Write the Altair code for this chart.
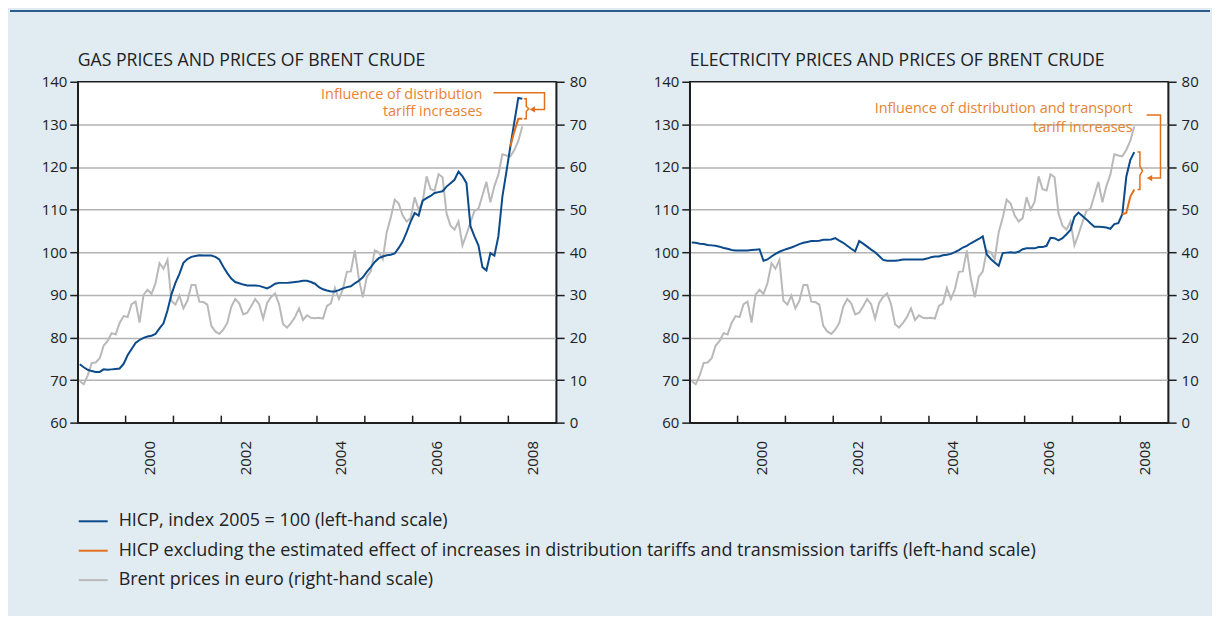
import altair as alt
import pandas as pd

# ---------------- data ----------------
START_YEAR = 1999  # first month = January 1999, monthly data to April 2008

brent_eur = [9.7, 9.0, 11.1, 14.0, 14.1, 15.1, 18.1, 19.2, 21.0, 20.7, 23.4, 25.0,
             24.8, 27.8, 28.4, 23.5, 30.0, 31.2, 30.2, 32.7, 37.4, 36.1, 38.2, 28.6,
             27.7, 29.8, 26.8, 28.6, 32.3, 32.3, 28.4, 28.3, 27.7, 22.7, 21.4, 20.8,
             21.8, 23.4, 27.2, 29.0, 28.0, 25.4, 25.8, 27.3, 29.0, 27.8, 24.4, 28.1,
             29.5, 30.3, 27.8, 23.1, 22.3, 23.4, 24.8, 26.8, 24.1, 25.2, 24.6, 24.5,
             24.6, 24.4, 27.4, 28.0, 31.6, 29.0, 31.3, 35.4, 35.5, 40.4, 33.8, 29.4,
             34.2, 35.5, 40.4, 40.0, 38.4, 44.7, 48.1, 52.3, 51.4, 48.6, 47.2, 48.0,
             52.9, 50.0, 51.8, 57.8, 54.8, 54.5, 58.3, 57.6, 49.1, 46.2, 45.3, 47.2,
             41.6, 44.2, 47.0, 49.7, 50.2, 53.3, 56.5, 51.7, 55.5, 58.2, 63.0, 62.7,
             62.5, 64.0, 66.1, 69.5]

gas_hicp = [73.7, 73.0, 72.4, 72.1, 71.9, 71.9, 72.5, 72.4, 72.5, 72.6, 72.7, 73.8,
            75.8, 77.3, 78.7, 79.4, 79.9, 80.2, 80.4, 80.8, 82.1, 83.3, 86.3, 90.1,
            92.8, 94.9, 97.5, 98.4, 98.9, 99.1, 99.3, 99.2, 99.2, 99.2, 98.9, 98.3,
            96.6, 95.1, 93.8, 93.0, 92.7, 92.4, 92.2, 92.2, 92.2, 92.1, 91.8, 91.5,
            92.0, 92.6, 92.8, 92.8, 92.8, 92.9, 93.0, 93.1, 93.3, 93.3, 93.0, 92.6,
            91.8, 91.3, 91.0, 90.8, 90.8, 91.1, 91.5, 91.8, 92.0, 92.7, 93.3, 94.1,
            95.4, 96.5, 97.7, 98.6, 99.0, 99.3, 99.4, 99.7, 101.0, 102.5, 104.7, 107.2,
            109.2, 108.6, 112.1, 112.7, 113.2, 113.9, 114.1, 114.3, 115.4, 116.2, 117.0, 118.9,
            117.8, 116.2, 106.1, 103.7, 101.6, 96.5, 95.7, 99.8, 99.2, 103.7, 113.0, 118.8,
            124.8, 130.5, 136.2, 136.0]

elec_hicp = [102.3, 102.2, 102.0, 101.9, 101.7, 101.6, 101.5, 101.3, 101.0, 100.8, 100.5, 100.4,
             100.4, 100.4, 100.4, 100.5, 100.6, 100.7, 98.0, 98.3, 99.0, 99.6, 100.1, 100.5,
             100.8, 101.1, 101.5, 101.9, 102.2, 102.4, 102.6, 102.6, 102.7, 102.9, 102.9, 103.0,
             103.3, 102.7, 102.2, 101.5, 100.8, 100.2, 102.6, 102.0, 101.3, 100.6, 100.0, 99.1,
             98.2, 98.0, 98.0, 98.0, 98.1, 98.3, 98.3, 98.3, 98.3, 98.3, 98.3, 98.5,
             98.8, 99.0, 99.0, 99.3, 99.4, 99.6, 100.0, 100.5, 101.1, 101.5, 102.1, 102.6,
             103.1, 103.7, 99.5, 98.4, 97.6, 96.8, 99.8, 99.9, 100.0, 99.9, 100.1, 100.7,
             100.9, 100.9, 100.9, 101.2, 101.2, 101.5, 103.4, 103.3, 102.8, 103.3, 104.2, 105.2,
             108.3, 109.3, 108.5, 107.7, 106.8, 106.0, 106.0, 105.9, 105.8, 105.5, 106.6, 106.8,
             108.9, 117.7, 121.6, 123.5]

EXCL_FIRST_MONTH = 108  # January 2008
gas_hicp_excl = [124.8, 128.3, 131.3, 131.3]
elec_hicp_excl = [108.9, 109.2, 113.0, 114.7]

tick_years = [2000, 2001, 2002, 2003, 2004, 2005, 2006, 2007, 2008]
label_years = [2000, 2002, 2004, 2006, 2008]
left_ticks = [60, 70, 80, 90, 100, 110, 120, 130, 140]
right_ticks = [0, 10, 20, 30, 40, 50, 60, 70, 80]

gas_title = "GAS PRICES AND PRICES OF BRENT CRUDE"
elec_title = "ELECTRICITY PRICES AND PRICES OF BRENT CRUDE"
gas_note = ["Influence of distribution", "tariff increases"]
elec_note = ["Influence of distribution and transport", "tariff increases"]

# annotation anchors (data units: decimal year / left-hand index)
gas_note_x, gas_note_y = 2007.458, [137.0, 132.8]
elec_note_x, elec_note_y = 2008.256, [133.6, 129.1]
gas_bracket_x = [2008.323, 2008.375, 2008.427]
elec_bracket_x = [2008.36, 2008.41, 2008.465]
gas_connector = [(2007.69, 137.4), (2008.756, 137.4), (2008.756, 133.5), (2008.5, 133.5)]
elec_connector = [(2008.55, 132.2), (2008.84, 132.2), (2008.84, 117.4), (2008.61, 117.4)]

legend_labels = [
    "HICP, index 2005 = 100 (left-hand scale)",
    "HICP excluding the estimated effect of increases in distribution tariffs and transmission tariffs (left-hand scale)",
    "Brent prices in euro (right-hand scale)",
]

# ---------------- styling / layout ----------------
FONT = "Open Sans"
TEXT = "#222222"
BLUE = "#0b4a8b"
ORANGE = "#e2701c"
ORANGE_TEXT = "#e8832f"
GRAY = "#b9b9b9"
GRID = "#b3b3b3"
FRAME = "#1e1e1e"
BG = "#e0ebf2"
TOPLINE = "#2c5d8e"
W, H = 480, 342
TOTAL_W = 1204
LEFT_MARGIN = 68      # page-x of gas plot minus chart left
TOP_MARGIN = 72       # page-y of plot top minus chart top
PANEL_GAP = 134
LEG_TOP, LEG_STEP = 441, 29.5   # legend rows, px below plot top


def month_t(n, first=0):
    return [START_YEAR + (first + k + 0.5) / 12 for k in range(n)]


def xs():
    return alt.Scale(domain=[START_YEAR, START_YEAR + 10], nice=False, zero=False)


def yls():
    return alt.Scale(domain=[60, 140], nice=False, zero=False)


def yrs():
    return alt.Scale(domain=[0, 80], nice=False, zero=False)


x_axis = alt.Axis(values=[y + 0.5 for y in label_years], labelExpr="'' + floor(datum.value)",
                  ticks=False, grid=False, domain=True, domainColor=FRAME, domainWidth=1.5,
                  labelAngle=270, labelPadding=18, labelFontSize=15, labelFont=FONT,
                  labelColor=TEXT, title=None, labelOverlap=False, labelFlush=False)

left_axis = alt.Axis(values=left_ticks, orient="left", tickSize=8, tickColor=FRAME, tickWidth=1.5,
                     domainColor=FRAME, domainWidth=1.5, labelPadding=3, labelFontSize=15,
                     labelFont=FONT, labelColor=TEXT, grid=True, gridColor=GRID, gridWidth=1.5,
                     gridOpacity=alt.condition("datum.value == 60 || datum.value == 140",
                                               alt.value(0), alt.value(1)),
                     title=None)

right_axis = alt.Axis(values=right_ticks, orient="right", tickSize=8, tickColor=FRAME, tickWidth=1.5,
                      domainColor=FRAME, domainWidth=1.5, labelPadding=5, labelFontSize=15,
                      labelFont=FONT, labelColor=TEXT, grid=False, title=None)


def X():
    return alt.X("t:Q", scale=xs(), axis=x_axis)


def panel(title_text, hicp, excl, note_lines, note_x, note_y, bracket_x, connector, extras=()):
    main = pd.DataFrame({"t": month_t(len(hicp)), "hicp": hicp, "brent": brent_eur})
    ex = pd.DataFrame({"t": month_t(len(excl), EXCL_FIRST_MONTH), "excl": excl})

    gray = alt.Chart(main).mark_line(color=GRAY, strokeWidth=2).encode(
        x=X(), y=alt.Y("brent:Q", scale=yrs(), axis=right_axis))
    blue = alt.Chart(main).mark_line(color=BLUE, strokeWidth=2).encode(
        x=X(), y=alt.Y("hicp:Q", scale=yls(), axis=left_axis))
    orange = alt.Chart(ex).mark_line(color=ORANGE, strokeWidth=2).encode(
        x=X(), y=alt.Y("excl:Q", scale=yls(), axis=None))

    ticks = alt.Chart(pd.DataFrame({"t": tick_years})).mark_rule(color=FRAME, strokeWidth=1.5).encode(
        x=X(), y=alt.value(H), y2=alt.value(H - 7))

    note = alt.Chart(pd.DataFrame({"t": [note_x] * len(note_lines), "v": note_y, "txt": note_lines})).mark_text(
        align="right", baseline="middle", color=ORANGE_TEXT, fontSize=14.5, font=FONT).encode(
        x=X(), y=alt.Y("v:Q", scale=yls(), axis=None), text="txt:N")

    top, bot = hicp[-1], excl[-1]
    mid = (top + bot) / 2
    d = (top - bot) * 0.12
    x0, x1, x2 = bracket_x
    br_pts = [(x0, top), (x1, top), (x1, mid + d), (x2, mid), (x1, mid - d), (x1, bot), (x0, bot)]
    rows = [{"t": p[0], "v": p[1], "path": "bracket", "o": i} for i, p in enumerate(br_pts)]
    rows += [{"t": p[0], "v": p[1], "path": "connector", "o": i} for i, p in enumerate(connector)]
    paths = alt.Chart(pd.DataFrame(rows)).mark_line(color=ORANGE, strokeWidth=1.5).encode(
        x=X(), y=alt.Y("v:Q", scale=yls(), axis=None), detail="path:N", order="o:Q")

    tip = connector[-1]
    arrow = alt.Chart(pd.DataFrame({"t": [tip[0]], "v": [tip[1]]})).mark_point(
        shape="triangle-left", filled=True, size=40, color=ORANGE, opacity=1).encode(
        x=X(), y=alt.Y("v:Q", scale=yls(), axis=None))

    title = alt.Chart(pd.DataFrame({"title": [title_text]})).mark_text(
        align="left", baseline="alphabetic", fontSize=17.7, font=FONT, color=TEXT).encode(
        x=alt.value(0), y=alt.value(-16), text="title:N")

    return alt.layer(gray, blue, orange, ticks, note, paths, arrow, title, *extras).resolve_scale(
        y="independent").properties(
        width=W, height=H,
        view=alt.ViewBackground(fill="white", stroke=FRAME, strokeWidth=1.5))


# dark line across the top of the box (drawn from the gas panel, outside its plot)
banner = alt.Chart(pd.DataFrame({"k": [0]})).mark_rule(color=TOPLINE, strokeWidth=2).encode(
    x=alt.value(-LEFT_MARGIN), x2=alt.value(TOTAL_W - LEFT_MARGIN), y=alt.value(1 - TOP_MARGIN))

# legend rows below the panels
leg_df = pd.DataFrame({"label": legend_labels, "row": [0, 1, 2]})
leg_d0 = -LEG_TOP / LEG_STEP
leg_y = alt.Y("row:Q", scale=alt.Scale(domain=[leg_d0, leg_d0 + H / LEG_STEP], reverse=True,
                                       nice=False, zero=False), axis=None)
leg_color = alt.Color("label:N", scale=alt.Scale(domain=legend_labels, range=[BLUE, ORANGE, GRAY]),
                      legend=None)
leg_lines = alt.Chart(leg_df).mark_rule(strokeWidth=2).encode(
    x=alt.value(1), x2=alt.value(30), y=leg_y, color=leg_color)
leg_text = alt.Chart(leg_df).mark_text(align="left", baseline="middle", fontSize=18, font=FONT,
                                       color=TEXT).encode(x=alt.value(41), y=leg_y, text="label:N")

gas = panel(gas_title, gas_hicp, gas_hicp_excl, gas_note, gas_note_x, gas_note_y,
            gas_bracket_x, gas_connector, extras=(banner, leg_lines, leg_text))
elec = panel(elec_title, elec_hicp, elec_hicp_excl, elec_note, elec_note_x, elec_note_y,
             elec_bracket_x, elec_connector)

chart = alt.hconcat(gas, elec, spacing=PANEL_GAP, bounds="flush").properties(
    background=BG,
    padding={"left": 0, "top": 0, "right": 0, "bottom": 25},
).configure_view(strokeWidth=0)

chart.save("out.html", embed_options={"renderer": "svg", "actions": False})
